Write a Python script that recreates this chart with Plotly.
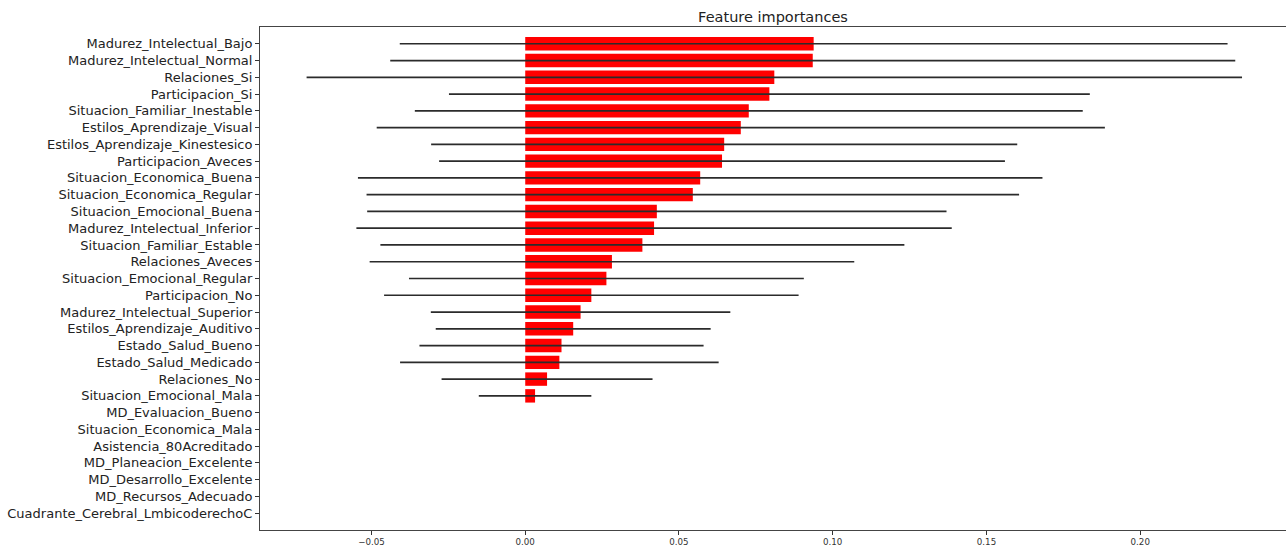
import plotly.graph_objects as go

features = [
    "Madurez_Intelectual_Bajo", "Madurez_Intelectual_Normal", "Relaciones_Si",
    "Participacion_Si", "Situacion_Familiar_Inestable", "Estilos_Aprendizaje_Visual",
    "Estilos_Aprendizaje_Kinestesico", "Participacion_Aveces", "Situacion_Economica_Buena",
    "Situacion_Economica_Regular", "Situacion_Emocional_Buena", "Madurez_Intelectual_Inferior",
    "Situacion_Familiar_Estable", "Relaciones_Aveces", "Situacion_Emocional_Regular",
    "Participacion_No", "Madurez_Intelectual_Superior", "Estilos_Aprendizaje_Auditivo",
    "Estado_Salud_Bueno", "Estado_Salud_Medicado", "Relaciones_No",
    "Situacion_Emocional_Mala", "MD_Evaluacion_Bueno", "Situacion_Economica_Mala",
    "Asistencia_80Acreditado", "MD_Planeacion_Excelente", "MD_Desarrollo_Excelente",
    "MD_Recursos_Adecuado", "Cuadrante_Cerebral_LmbicoderechoC",
]

importances = [
    0.0938, 0.0935, 0.0810, 0.0794, 0.0727, 0.0701, 0.0647, 0.0640, 0.0569,
    0.0545, 0.0428, 0.0419, 0.0381, 0.0282, 0.0264, 0.0215, 0.0180, 0.0156,
    0.0118, 0.0111, 0.0071, 0.0032, 0.0, 0.0, 0.0, 0.0, 0.0, 0.0, 0.0,
]

std = [
    0.1346, 0.1374, 0.1521, 0.1042, 0.1086, 0.1184, 0.0953, 0.0920, 0.1113,
    0.1061, 0.0942, 0.0968, 0.0852, 0.0788, 0.0642, 0.0674, 0.0487, 0.0447,
    0.0462, 0.0518, 0.0343, 0.0183, 0.0, 0.0, 0.0, 0.0, 0.0, 0.0, 0.0,
]

x_ticks = [-0.05, 0.0, 0.05, 0.10, 0.15, 0.20]
x_tick_text = ["\u22120.05", "0.00", "0.05", "0.10", "0.15", "0.20"]

fig = go.Figure(
    go.Bar(
        x=importances,
        y=features,
        orientation="h",
        marker=dict(color="#ff0000", line=dict(width=0)),
        error_x=dict(type="data", array=std, symmetric=True,
                     color="#2b2b2b", thickness=1.7, width=0),
        hoverinfo="x+y",
    )
)

fig.update_layout(
    width=1286,
    height=548,
    margin=dict(l=260, r=0, t=27, b=18),
    paper_bgcolor="white",
    plot_bgcolor="white",
    bargap=0.2,
    showlegend=False,
    font=dict(family="DejaVu Sans", color="#222222"),
    title=dict(
        text="Feature importances",
        x=0.5, xref="paper", xanchor="center",
        y=1 - 17 / 548, yref="container", yanchor="middle",
        font=dict(family="DejaVu Sans", size=14.5, color="#222222"),
    ),
    xaxis=dict(
        range=[-0.08625, 0.2474],
        tickvals=x_ticks,
        ticktext=x_tick_text,
        ticks="outside", ticklen=4, tickwidth=1, tickcolor="#333333",
        tickfont=dict(family="DejaVu Sans", size=8.7, color="#333333"),
        showgrid=False, zeroline=False,
        showline=True, linecolor="#444444", linewidth=1, mirror=True,
    ),
    yaxis=dict(
        type="category",
        categoryorder="array",
        categoryarray=features[::-1],
        range=[-1, len(features)],
        ticks="outside", ticklen=4, tickwidth=1, tickcolor="#333333",
        tickfont=dict(family="DejaVu Sans", size=13, color="#222222"),
        showgrid=False, zeroline=False,
        showline=True, linecolor="#444444", linewidth=1,
    ),
)

fig.write_html("out.html")
